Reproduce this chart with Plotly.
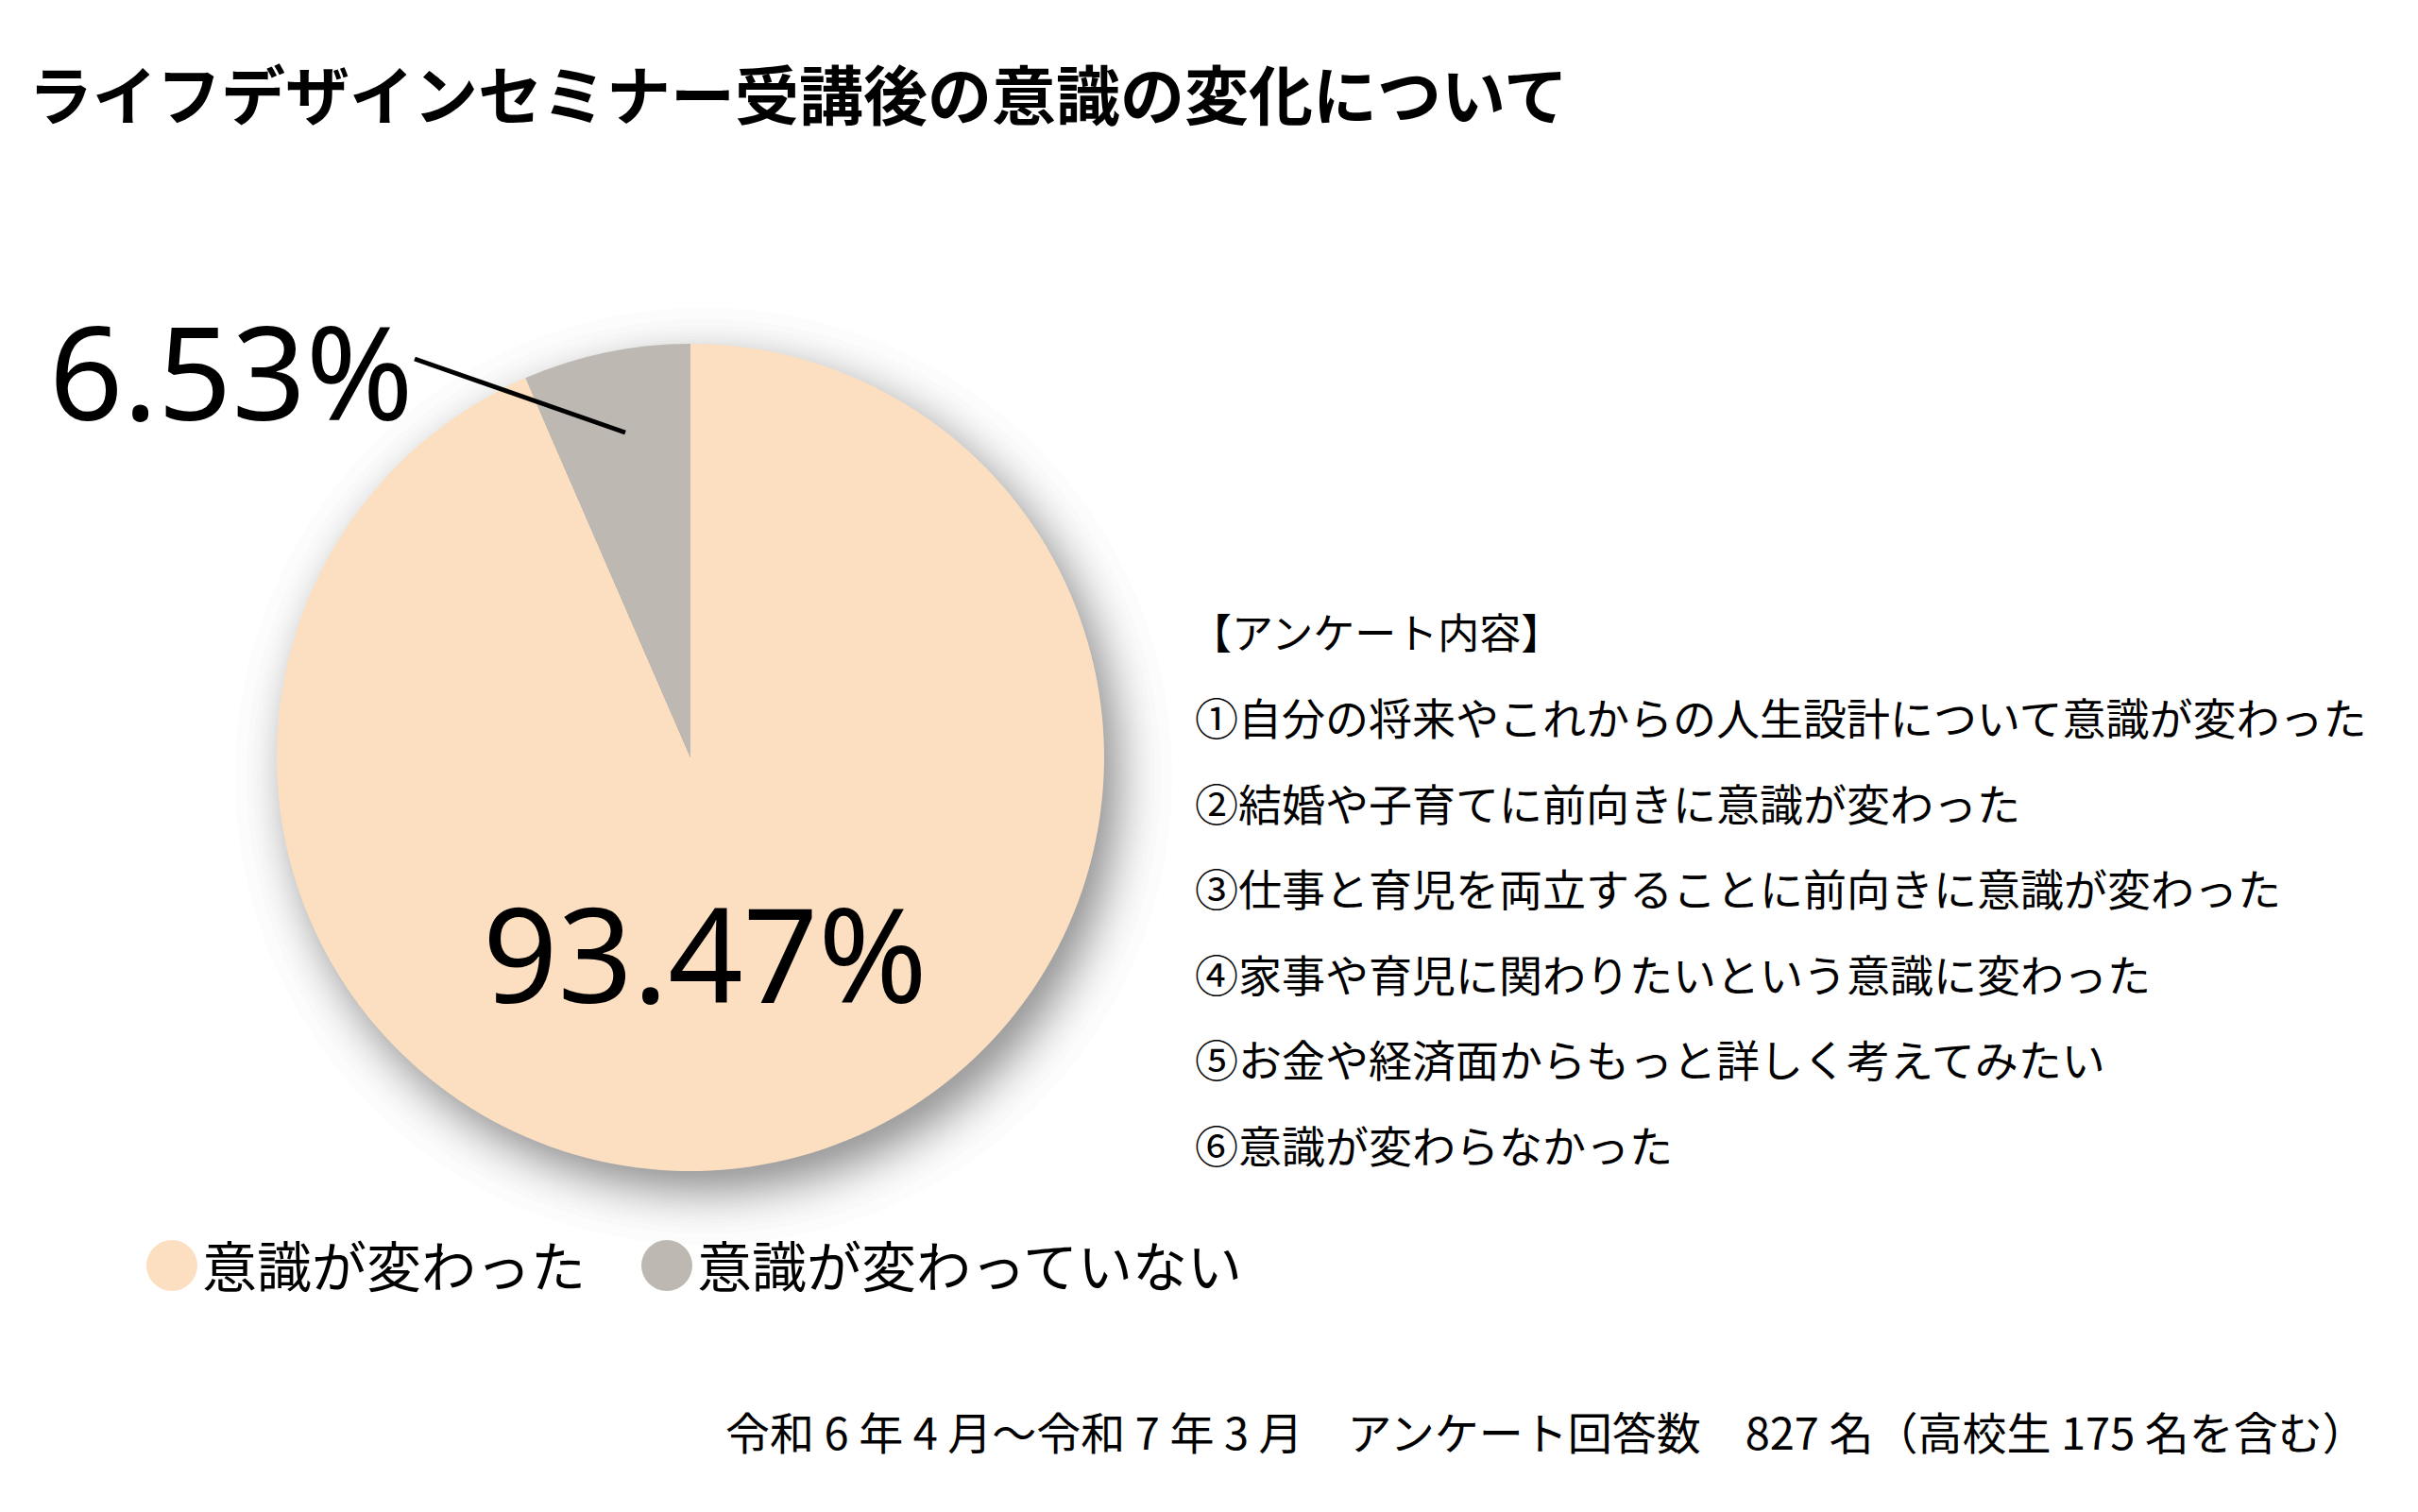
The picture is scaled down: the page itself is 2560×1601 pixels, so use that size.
import plotly.graph_objects as go
from statistics import NormalDist

# DANE
labels = ["意識が変わった", "意識が変わっていない"]
values = [93.47, 6.53]
colors = ["#FCDFC1", "#BDB8B2"]

title = "ライフデザインセミナー受講後の意識の変化について"
survey_head = "【アンケート内容】"
survey_items = [
    "①自分の将来やこれからの人生設計について意識が変わった",
    "②結婚や子育てに前向きに意識が変わった",
    "③仕事と育児を両立することに前向きに意識が変わった",
    "④家事や育児に関わりたいという意識に変わった",
    "⑤お金や経済面からもっと詳しく考えてみたい",
    "⑥意識が変わらなかった",
]
footer = "令和 6 年 4 月〜令和 7 年 3 月　アンケート回答数　827 名（高校生 175 名を含む）"

# UKLAD (piksele)
W, H = 2560, 1601
cx, cy, r = 731, 802, 438
JP = "Noto Sans CJK JP"
NUM = "Noto Sans"

def px(x):
    return x / W

def py(y):
    return 1 - y / H

fig = go.Figure()
fig.add_trace(go.Pie(
    labels=labels, values=values,
    marker=dict(colors=colors, line=dict(width=0)),
    sort=False, direction="clockwise", rotation=0,
    textinfo="none", hoverinfo="none", showlegend=False,
    domain=dict(x=[px(cx - r), px(cx + r)], y=[py(cy + r), py(cy - r)]),
))

shapes = []
# rozmyty cien pod kolem
n_sh, sigma = 40, 26
alpha = 1 - (1 - 0.38) ** (1 / n_sh)
sx, sy = cx + 14, cy + 20
for k in range(n_sh):
    rr = r + sigma * NormalDist().inv_cdf((k + 0.5) / n_sh)
    shapes.append(dict(type="circle", xref="paper", yref="paper", layer="below",
                       x0=px(sx - rr), x1=px(sx + rr), y0=py(sy + rr), y1=py(sy - rr),
                       fillcolor=f"rgba(0,0,0,{alpha:.4f})", line=dict(width=0)))
# linia odnosnika
shapes.append(dict(type="line", xref="paper", yref="paper",
                   x0=px(439), y0=py(380), x1=px(662), y1=py(458),
                   line=dict(color="black", width=5)))

ann = []
ann.append(dict(text=title, x=px(28), y=py(98), xanchor="left", yanchor="middle",
                font=dict(family=JP, size=68, color="black", weight="bold")))
ann.append(dict(text=f"{values[0]:.2f}%", x=px(746), y=py(1008), xanchor="center", yanchor="middle",
                font=dict(family=NUM, size=139, color="black")))
ann.append(dict(text=f"{values[1]:.2f}%", x=px(50), y=py(392), xanchor="left", yanchor="middle",
                font=dict(family=NUM, size=137, color="black")))

ann.append(dict(text=survey_head, x=px(1258), y=py(668), xanchor="left", yanchor="middle",
                font=dict(family=JP, size=44, color="black")))
for i, item in enumerate(survey_items):
    ann.append(dict(text=item, x=px(1263), y=py(758 + i * 90.5), xanchor="left", yanchor="middle",
                    font=dict(family=JP, size=46, color="black")))

# legenda
leg_x = [182, 706]
for i, lab in enumerate(labels):
    shapes.append(dict(type="circle", xref="paper", yref="paper",
                       x0=px(leg_x[i] - 27), x1=px(leg_x[i] + 27), y0=py(1367), y1=py(1313),
                       fillcolor=colors[i], line=dict(width=0)))
    ann.append(dict(text=lab, x=px(leg_x[i] + 30), y=py(1338), xanchor="left", yanchor="middle",
                    font=dict(family=JP, size=58, color="black")))

ann.append(dict(text=footer, x=px(2508), y=py(1514), xanchor="right", yanchor="middle",
                font=dict(family=JP, size=47, color="black")))

for a in ann:
    a.update(xref="paper", yref="paper", showarrow=False)

fig.update_layout(
    width=W, height=H,
    margin=dict(l=0, r=0, t=0, b=0),
    paper_bgcolor="white", plot_bgcolor="white",
    shapes=shapes, annotations=ann,
)
fig.write_html("out.html", config={"displayModeBar": False},
               post_script="document.body.style.margin='0px';")
